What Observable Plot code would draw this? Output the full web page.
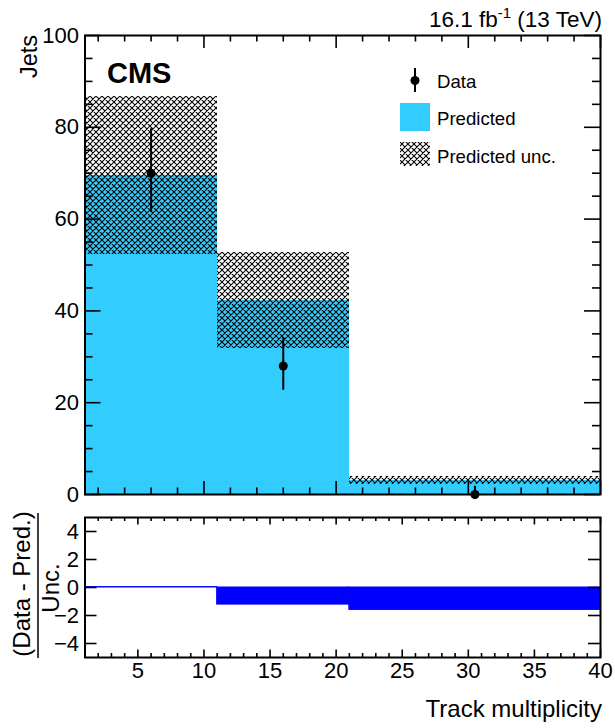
<!DOCTYPE html>
<html><head><meta charset="utf-8">
<script src="https://cdn.jsdelivr.net/npm/d3@7"></script>
<script src="https://cdn.jsdelivr.net/npm/@observablehq/plot@0.6"></script>
<style>
body{margin:0;background:#fff}
#wrap{position:relative;width:615px;height:728px;overflow:hidden;background:#fff}
#wrap svg{position:absolute;left:0}
</style>
</head><body>
<svg width="0" height="0" style="position:absolute">
  <defs>
    <pattern id="hatch" patternUnits="userSpaceOnUse" width="6" height="6">
      <path d="M0,0L6,6M0,6L6,0M-1,1L1,-1M5,7L7,5M-1,5L1,7M5,-1L7,1" stroke="black" stroke-width="1.05" fill="none"/>
    </pattern>
  </defs>
</svg>
<div id="wrap"></div>
<script>
// ---- data ----
const binLow = [1, 11, 21];
const binHigh = [11, 21, 40];
const predicted = [69.5, 42.3, 3.05];
const predictedUnc = [17.2, 10.5, 0.8];
const dataX = [6, 16, 30.5];
const dataY = [70, 28, 0];
const dataErrLow = [8.6, 5.3, 0];
const dataErrHigh = [9.7, 6.2, 1.8];
const pull = [0.03, -1.22, -1.6];
const yTickLabelsMain = [0, 20, 40, 60, 80, 100];
const yTickLabelsRatio = [-4, -2, 0, 2, 4];
const xTickLabels = [5, 10, 15, 20, 25, 30, 35, 40];

const bins = binLow.map((lo, i) => ({lo, hi: binHigh[i], pred: predicted[i], unc: predictedUnc[i], pull: pull[i]}));
const pts = dataX.map((x, i) => ({x, y: dataY[i], lo: dataErrLow[i], hi: dataErrHigh[i]}));

const font = "'Liberation Sans', Arial, Helvetica, sans-serif";
const W = 615;
const mL = 84.5, mR = 15;
const pw = W - mL - mR;

// ---- main panel ----
const H1 = 505, mT1 = 35, mB1 = 11;
const ph1 = H1 - mT1 - mB1;
const tk = "black", tw = 1.6;
function yTicks(vals, len) {
  return [
    Plot.tickY(vals, {y: d => d, insetRight: pw - len, stroke: tk, strokeWidth: tw}),
    Plot.tickY(vals, {y: d => d, insetLeft: pw - len, stroke: tk, strokeWidth: tw})
  ];
}
function xTicks(vals, len, ph) {
  return [
    Plot.tickX(vals, {x: d => d, insetTop: ph - len, stroke: tk, strokeWidth: tw}),
    Plot.tickX(vals, {x: d => d, insetBottom: ph - len, stroke: tk, strokeWidth: tw})
  ];
}
const main = Plot.plot({
  width: W, height: H1,
  marginLeft: mL, marginRight: mR, marginTop: mT1, marginBottom: mB1,
  x: {domain: [1, 40], axis: null},
  y: {domain: [0, 100], axis: null},
  style: {fontFamily: font, fontSize: "22px", color: "black", background: "transparent", overflow: "visible"},
  marks: [
    Plot.rect(bins, {x1: "lo", x2: "hi", y1: 0, y2: "pred", fill: "#33ccff", inset: 0, shapeRendering: "crispEdges"}),
    Plot.rect(bins, {x1: "lo", x2: "hi", y1: d => d.pred - d.unc, y2: d => d.pred + d.unc, fill: "url(#hatch)", inset: 0, shapeRendering: "crispEdges"}),
    ...yTicks(d3.range(0, 101, 5).filter(v => v % 20 !== 0), 8),
    ...yTicks(yTickLabelsMain, 16),
    ...xTicks(d3.range(2, 41, 2).filter(v => v % 10 !== 0), 6.5, ph1),
    ...xTicks([10, 20, 30, 40], 13, ph1),
    Plot.ruleX(pts, {x: "x", y1: d => d.y - d.lo, y2: d => d.y + d.hi, stroke: "black", strokeWidth: 2}),
    Plot.dot(pts, {x: "x", y: "y", r: 4.5, fill: "black", stroke: "none"}),
    Plot.frame({stroke: "black", strokeWidth: 2}),
    Plot.axisY({ticks: yTickLabelsMain, tickSize: 0, tickPadding: 6, fontSize: 22, label: null})
  ]
});
main.style.top = "0px";

// ---- ratio panel ----
const H2 = 223, mT2 = 12, mB2 = 71;
const ph2 = H2 - mT2 - mB2;
const ratio = Plot.plot({
  width: W, height: H2,
  marginLeft: mL, marginRight: mR, marginTop: mT2, marginBottom: mB2,
  x: {domain: [1, 40], axis: null},
  y: {domain: [-5, 5], axis: null},
  style: {fontFamily: font, fontSize: "22px", color: "black", background: "transparent", overflow: "visible"},
  marks: [
    Plot.rect(bins, {x1: "lo", x2: "hi", y1: 0, y2: "pull", fill: "#0000ff", stroke: "#0000ff", strokeWidth: 1, inset: 0}),
    ...xTicks(d3.range(2, 40, 1).filter(v => v % 5 !== 0), 4, ph2),
    ...xTicks(xTickLabels, 7.5, ph2),
    ...yTicks(yTickLabelsRatio, 12),
    Plot.frame({stroke: "black", strokeWidth: 2}),
    Plot.axisY({ticks: yTickLabelsRatio, tickSize: 0, tickPadding: 6, fontSize: 22, label: null}),
    Plot.axisX({ticks: xTickLabels, tickSize: 0, tickPadding: 5, fontSize: 22, label: null})
  ]
});
ratio.style.top = H1 + "px";

const wrap = document.getElementById("wrap");
wrap.appendChild(main);
wrap.appendChild(ratio);

// ---- annotations: titles, labels, legend ----
const ov = d3.create("svg").attr("width", W).attr("height", 728)
  .style("top", "0px").style("font-family", font).style("pointer-events", "none");
const t1 = ov.append("text").attr("x", 602).attr("y", 27).attr("text-anchor", "end").attr("font-size", 22.5);
t1.append("tspan").text("16.1 fb");
t1.append("tspan").attr("font-size", 15).attr("dy", -9).text("-1");
t1.append("tspan").attr("dy", 9).text(" (13 TeV)");
ov.append("text").attr("x", 107).attr("y", 83).attr("font-size", 29).attr("font-weight", "bold").text("CMS");
ov.append("text").attr("transform", "translate(37,35) rotate(-90)").attr("text-anchor", "end").attr("font-size", 23.5).text("Jets");
ov.append("text").attr("x", 602).attr("y", 717).attr("text-anchor", "end").attr("font-size", 24).text("Track multiplicity");
// ratio y title as fraction
ov.append("text").attr("transform", "translate(30,584) rotate(-90)").attr("text-anchor", "middle").attr("font-size", 24).text("(Data - Pred.)");
ov.append("line").attr("x1", 38).attr("x2", 38).attr("y1", 513).attr("y2", 658).attr("stroke", "black").attr("stroke-width", 1.5);
ov.append("text").attr("transform", "translate(59,588) rotate(-90)").attr("text-anchor", "middle").attr("font-size", 24).text("Unc.");
// legend
const lg = ov.append("g").attr("font-size", 18.6);
lg.append("line").attr("x1", 415).attr("x2", 415).attr("y1", 68).attr("y2", 92).attr("stroke", "black").attr("stroke-width", 2);
lg.append("circle").attr("cx", 415).attr("cy", 80.5).attr("r", 4.5).attr("fill", "black");
lg.append("text").attr("x", 437).attr("y", 88).text("Data");
lg.append("rect").attr("x", 400).attr("y", 103).attr("width", 30).attr("height", 28).attr("fill", "#33ccff");
lg.append("text").attr("x", 437).attr("y", 125).text("Predicted");
lg.append("rect").attr("x", 400).attr("y", 142).attr("width", 30).attr("height", 24).attr("fill", "url(#hatch)");
lg.append("text").attr("x", 437).attr("y", 163).text("Predicted unc.");
wrap.appendChild(ov.node());
</script>
</body></html>
